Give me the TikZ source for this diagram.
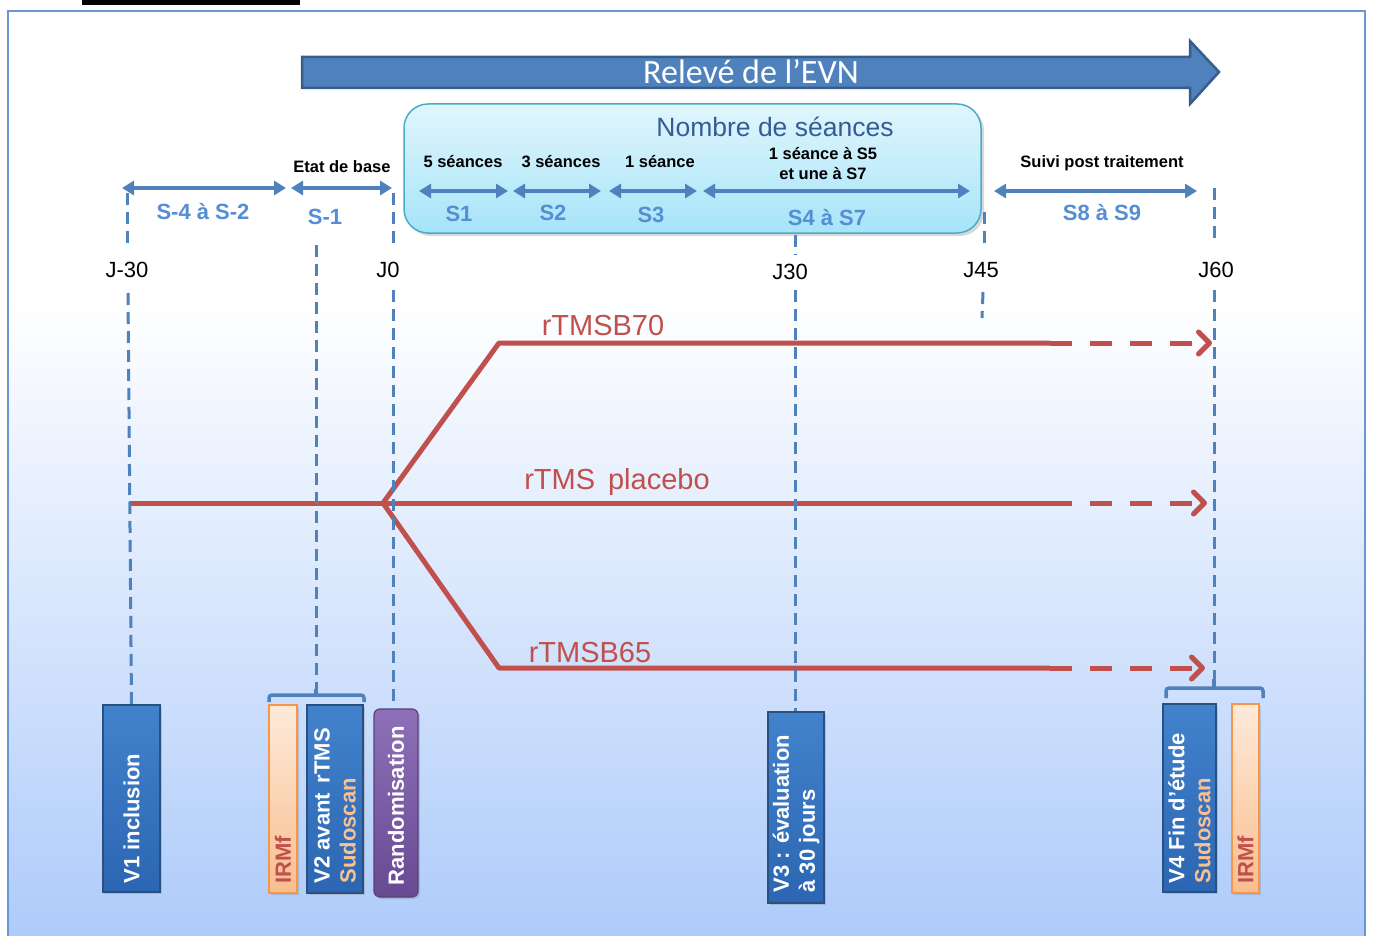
\documentclass[tikz,border=0pt]{standalone}
\usepackage{fontspec}
\setmainfont{Liberation Sans}
\newfontfamily\calib{Carlito}
\usetikzlibrary{arrows.meta,shadows}
\definecolor{arrowblue}{RGB}{79,129,189}
\definecolor{darkarrow}{RGB}{56,93,138}
\definecolor{lblblue}{RGB}{85,142,213}
\definecolor{framec}{RGB}{106,150,214}
\definecolor{bgblue}{RGB}{174,203,250}
\definecolor{redl}{RGB}{192,80,77}
\definecolor{boxtop}{RGB}{225,246,253}
\definecolor{boxbot}{RGB}{166,228,248}
\definecolor{boxborder}{RGB}{75,172,198}
\definecolor{titleblue}{RGB}{52,93,150}
\definecolor{vtop}{RGB}{66,130,204}
\definecolor{vbot}{RGB}{44,102,178}
\definecolor{vborder}{RGB}{42,80,130}
\definecolor{ptop}{RGB}{142,112,184}
\definecolor{pbot}{RGB}{104,74,146}
\definecolor{pborder}{RGB}{90,64,125}
\definecolor{irtop}{RGB}{253,234,218}
\definecolor{irbot}{RGB}{250,190,142}
\definecolor{irborder}{RGB}{247,150,70}
\definecolor{peach}{RGB}{250,192,144}
\begin{document}
\begin{tikzpicture}[x=1pt,y=1pt,
  blab/.style={font=\bfseries\fontsize{16.5}{20}\selectfont, inner sep=0pt},
  slab/.style={font=\bfseries\fontsize{22}{26}\selectfont, text=lblblue, inner sep=0pt},
  jlab/.style={font=\fontsize{22}{26}\selectfont, inner sep=0pt},
  rlab/.style={font=\fontsize{29}{34}\selectfont, text=redl, inner sep=0pt},
  darr/.style={arrowblue, line width=4pt, {Triangle[length=12pt,width=14pt]}-{Triangle[length=12pt,width=14pt]}},
  vdash/.style={arrowblue, line width=3pt, dash pattern=on 12pt off 7pt},
  rline/.style={redl, line width=5pt, line join=round},
  rdash/.style={redl, line width=5pt, dash pattern=on 22pt off 18pt, -{Straight Barb[length=11pt,width=22pt,round]}},
  brack/.style={arrowblue, line width=3.5pt, rounded corners=3pt},
  shad/.style={drop shadow={opacity=0.3, shadow xshift=2pt, shadow yshift=-2pt}},
  vbox/.style={draw=vborder, line width=1.2pt, top color=vtop, bottom color=vbot, inner sep=0pt, shad},
  pbox/.style={draw=pborder, line width=1.2pt, top color=ptop, bottom color=pbot, inner sep=0pt, rounded corners=6pt, shad},
  ibox/.style={draw=irborder, line width=1.5pt, top color=irtop, bottom color=irbot, inner sep=0pt, shad},
  vtxt/.style={rotate=90, anchor=west, inner sep=0pt, text=white, font=\bfseries\fontsize{22}{26}\selectfont, align=left},
  itxt/.style={vtxt, text=redl}
]
\useasboundingbox (0,0) rectangle (1373,-936);
% background and frame
\fill[white] (8,-11) rectangle (1365,-300);
\shade[top color=white, bottom color=bgblue] (8,-300) rectangle (1365,-936);
\draw[framec, line width=2pt] (8,-936) -- (8,-11) -- (1365,-11) -- (1365,-936);
\fill[black] (82,0) rectangle (300,-5);

% big arrow
\filldraw[fill=arrowblue, draw=darkarrow, line width=2.5pt, line join=miter]
  (302,-57) -- (1190,-57) -- (1190,-41) -- (1219,-72) -- (1190,-104) -- (1190,-88) -- (302,-88) -- cycle;
\node[text=white, font=\calib\fontsize{34}{38}\selectfont, inner sep=0pt] (evn) at (751,-72) {Relevé de l’EVN};

% seances box
\node[draw=boxborder, line width=1.5pt, rounded corners=24pt, top color=boxtop, bottom color=boxbot,
  minimum width=577pt, minimum height=129pt, inner sep=0pt,
  drop shadow={opacity=0.3, shadow xshift=3pt, shadow yshift=-3pt}] (seances) at (692.5,-168.5) {};
\node[font=\fontsize{26.5}{30}\selectfont, text=titleblue, inner sep=0pt] (nbt) at (775,-127) {Nombre de séances};

% black labels
\node[blab] (etat) at (342,-167) {Etat de base};
\node[blab] (c5) at (463,-162) {5 séances};
\node[blab] (c3) at (561,-162) {3 séances};
\node[blab] (c1) at (660,-162) {1 séance};
\node[blab, align=center] (c57) at (823,-164) {1 séance à S5\\et une à S7};
\node[blab] (suivi) at (1102,-163) {Suivi post traitement};

% double arrows
\coordinate (a1l) at (122,-188); \coordinate (a1r) at (286,-188);
\coordinate (a2l) at (291,-188); \coordinate (a2r) at (392,-188);
\coordinate (a3l) at (419,-191); \coordinate (a3r) at (508,-191);
\coordinate (a4l) at (513,-191); \coordinate (a4r) at (601,-191);
\coordinate (a5l) at (609,-191); \coordinate (a5r) at (697,-191);
\coordinate (a6l) at (703,-191); \coordinate (a6r) at (970,-191);
\coordinate (a7l) at (994,-191); \coordinate (a7r) at (1197,-191);
\draw[darr] (a1l) -- (a1r);
\draw[darr] (a2l) -- (a2r);
\draw[darr] (a3l) -- (a3r);
\draw[darr] (a4l) -- (a4r);
\draw[darr] (a5l) -- (a5r);
\draw[darr] (a6l) -- (a6r);
\draw[darr] (a7l) -- (a7r);

% blue labels
\node[slab] (s42) at (203,-212) {S-4 à S-2};
\node[slab] (s1m) at (325,-217) {S-1};
\node[slab] (s1) at (459,-214) {S1};
\node[slab] (s2) at (553,-213) {S2};
\node[slab] (s3) at (651,-215) {S3};
\node[slab] (s47) at (827,-218) {S4 à S7};
\node[slab] (s89) at (1102,-213) {S8 à S9};

% J labels
\node[jlab] (jm30) at (127,-270) {J-30};
\node[jlab] (j0) at (388,-270) {J0};
\node[jlab] (j30) at (790,-272) {J30};
\node[jlab] (j45) at (981,-270) {J45};
\node[jlab] (j60) at (1216,-270) {J60};

% red lines
\coordinate (pst) at (129,-503);
\coordinate (split) at (383,-503);
\coordinate (pse) at (1050,-503);
\coordinate (ptip) at (1207,-503);
\coordinate (b70c) at (499,-343);
\coordinate (b70e) at (1050,-343);
\coordinate (b70tip) at (1212,-343);
\coordinate (b65c) at (499,-668);
\coordinate (b65e) at (1050,-668);
\coordinate (b65tip) at (1205,-668);
\draw[rline] (pst) -- (pse);
\draw[rline] (split) -- (b70c) -- (b70e);
\draw[rline] (split) -- (b65c) -- (b65e);
\draw[rdash] (pse) -- (ptip);
\draw[rdash] (b70e) -- (b70tip);
\draw[rdash] (b65e) -- (b65tip);
\node[rlab] (lb70) at (603,-326) {rTMSB70};
\node[rlab] (lpl) at (617,-482) {rTMS\, placebo};
\node[rlab] (lb65) at (590,-653) {rTMSB65};

% bottom boxes
\node[vbox, minimum width=57pt, minimum height=187pt] (v1) at (131.5,-798.5) {};
\node[ibox, minimum width=28pt, minimum height=188pt] (irl) at (283,-799) {};
\node[vbox, minimum width=56pt, minimum height=188pt] (v2) at (335,-799) {};
\node[pbox, minimum width=44pt, minimum height=188pt] (rand) at (396,-803) {};
\node[vbox, minimum width=56pt, minimum height=191pt] (v3) at (796,-807.5) {};
\node[vbox, minimum width=53pt, minimum height=188pt] (v4) at (1189.5,-798) {};
\node[ibox, minimum width=27pt, minimum height=189pt] (irr) at (1245.5,-798.5) {};

\node[vtxt] (tv1) at ([yshift=9pt]v1.south) {V1 inclusion};
\node[itxt] (tirl) at ([yshift=10pt]irl.south) {IRMf};
\node[vtxt] (tv2) at ([yshift=10pt]v2.south) {V2 avant\, rTMS\\{\color{peach}Sudoscan}};
\node[vtxt] (trand) at ([yshift=12pt]rand.south) {Randomisation};
\node[vtxt] (tv3) at ([yshift=11pt]v3.south) {V3 : évaluation\\à 30 jours};
\node[vtxt] (tv4) at ([yshift=9pt]v4.south) {V4 Fin d’étude\\{\color{peach}Sudoscan}};
\node[itxt] (tirr) at ([yshift=10pt]irr.south) {IRMf};

% brackets
\coordinate (bl1) at (269,-702); \coordinate (bl2) at (269,-695);
\coordinate (bl3) at (364,-695); \coordinate (bl4) at (364,-702);
\coordinate (blm) at (316,-695); \coordinate (blt) at (316,-689);
\draw[brack] (bl1) -- (bl2) -- (bl3) -- (bl4);
\draw[arrowblue, line width=3.5pt] (blm) -- (blt);
\coordinate (br1) at (1166,-698); \coordinate (br2) at (1166,-688);
\coordinate (br3) at (1263,-688); \coordinate (br4) at (1263,-698);
\coordinate (brm) at (1214,-688); \coordinate (brt) at (1214,-679);
\draw[brack] (br1) -- (br2) -- (br3) -- (br4);
\draw[arrowblue, line width=3.5pt] (brm) -- (brt);

% dashed verticals
\coordinate (dm30a) at (127,-193); \coordinate (dm30b) at (127,-245);
\coordinate (dm30c) at (128,-293);
\draw[vdash] (dm30a) -- (dm30b);
\draw[vdash] (dm30c) -- (v1.north);
\coordinate (ds1a) at (316,-245);
\draw[vdash] (ds1a) -- (blt);
\coordinate (d0a) at (393,-193); \coordinate (d0b) at (393,-245); \coordinate (d0c) at (393,-290);
\draw[vdash] (d0a) -- (d0b);
\draw[vdash] (d0c) -- (rand.north -| d0c);
\coordinate (d30a) at (795,-235); \coordinate (d30b) at (795,-255); \coordinate (d30c) at (795,-290);
\draw[vdash] (d30a) -- (d30b);
\draw[vdash] (d30c) -- (v3.north -| d30c);
\coordinate (d45a) at (984,-212); \coordinate (d45b) at (984,-244);
\coordinate (d45c) at (983,-292); \coordinate (d45d) at (982,-318);
\draw[vdash] (d45a) -- (d45b);
\draw[vdash] (d45c) -- (d45d);
\coordinate (d60a) at (1214,-188); \coordinate (d60b) at (1214,-240); \coordinate (d60c) at (1214,-290);
\draw[vdash] (d60a) -- (d60b);
\draw[vdash] (d60c) -- (brt);
\end{tikzpicture}
\end{document}
